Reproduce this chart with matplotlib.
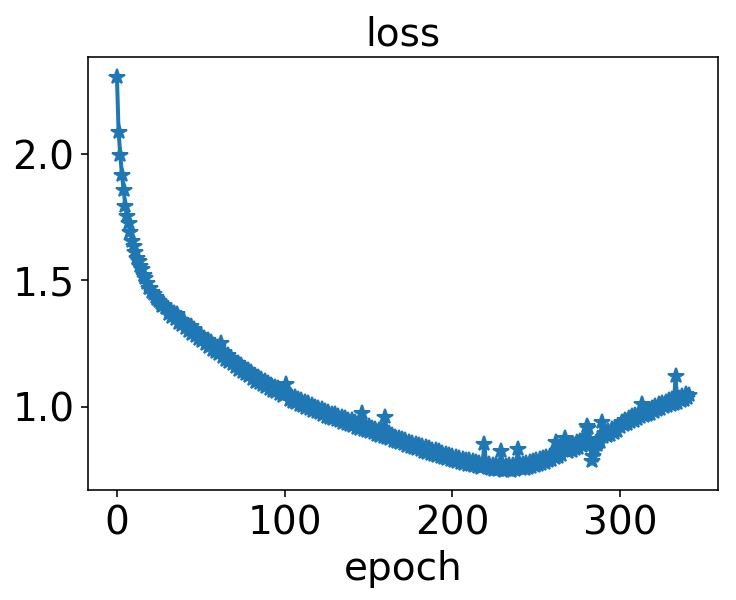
import matplotlib
matplotlib.use("Agg")
import matplotlib.pyplot as plt
from matplotlib.ticker import MultipleLocator

# loss per epoch
loss = [
    2.306, 2.088, 1.996, 1.917, 1.858, 1.795, 1.756, 1.727, 1.693, 1.657,
    1.637, 1.612, 1.590, 1.578, 1.556, 1.545, 1.522, 1.508, 1.491, 1.472,
    1.470, 1.455, 1.448, 1.436, 1.428, 1.420, 1.412, 1.398, 1.402, 1.389,
    1.392, 1.368, 1.379, 1.355, 1.372, 1.349, 1.366, 1.332, 1.345, 1.325,
    1.338, 1.312, 1.324, 1.298, 1.318, 1.290, 1.309, 1.282, 1.293, 1.270,
    1.285, 1.260, 1.274, 1.248, 1.266, 1.238, 1.255, 1.226, 1.244, 1.218,
    1.235, 1.210, 1.254, 1.198, 1.215, 1.186, 1.205, 1.176, 1.192, 1.168,
    1.183, 1.158, 1.172, 1.146, 1.164, 1.138, 1.155, 1.128, 1.144, 1.120,
    1.136, 1.112, 1.126, 1.100, 1.118, 1.094, 1.110, 1.086, 1.102, 1.078,
    1.096, 1.072, 1.088, 1.064, 1.080, 1.058, 1.074, 1.050, 1.066, 1.042,
    1.058, 1.090, 1.050, 1.028, 1.044, 1.020, 1.038, 1.014, 1.030, 1.008,
    1.026, 1.004, 1.020, 0.996, 1.014, 0.990, 1.008, 0.984, 1.000, 0.978,
    0.996, 0.974, 0.990, 0.966, 0.984, 0.960, 0.978, 0.956, 0.972, 0.950,
    0.970, 0.948, 0.964, 0.942, 0.958, 0.936, 0.954, 0.932, 0.948, 0.928,
    0.946, 0.924, 0.940, 0.918, 0.936, 0.914, 0.977, 0.910, 0.928, 0.904,
    0.924, 0.902, 0.918, 0.896, 0.914, 0.890, 0.910, 0.886, 0.904, 0.882,
    0.958, 0.878, 0.896, 0.872, 0.890, 0.866, 0.882, 0.860, 0.876, 0.856,
    0.874, 0.852, 0.868, 0.846, 0.862, 0.842, 0.858, 0.836, 0.852, 0.832,
    0.850, 0.828, 0.846, 0.822, 0.840, 0.818, 0.836, 0.814, 0.830, 0.808,
    0.828, 0.806, 0.824, 0.800, 0.818, 0.796, 0.812, 0.792, 0.808, 0.788,
    0.806, 0.786, 0.802, 0.780, 0.798, 0.776, 0.794, 0.772, 0.790, 0.770,
    0.788, 0.768, 0.784, 0.764, 0.780, 0.760, 0.778, 0.758, 0.776, 0.854,
    0.774, 0.756, 0.772, 0.752, 0.770, 0.750, 0.768, 0.750, 0.766, 0.826,
    0.764, 0.748, 0.766, 0.750, 0.768, 0.748, 0.770, 0.750, 0.768, 0.834,
    0.770, 0.752, 0.772, 0.754, 0.776, 0.758, 0.780, 0.762, 0.784, 0.766,
    0.788, 0.770, 0.792, 0.774, 0.796, 0.778, 0.802, 0.784, 0.806, 0.790,
    0.812, 0.796, 0.860, 0.802, 0.826, 0.808, 0.834, 0.878, 0.840, 0.820,
    0.848, 0.826, 0.854, 0.832, 0.860, 0.838, 0.866, 0.844, 0.872, 0.850,
    0.925, 0.918, 0.865, 0.786, 0.805, 0.830, 0.850, 0.872, 0.860, 0.938,
    0.880, 0.898, 0.885, 0.905, 0.890, 0.912, 0.898, 0.918, 0.905, 0.926,
    0.920, 0.938, 0.928, 0.948, 0.932, 0.955, 0.940, 0.962, 0.945, 0.968,
    0.952, 0.972, 0.958, 1.012, 0.962, 0.978, 0.966, 0.988, 0.972, 0.995,
    0.980, 1.002, 0.986, 1.010, 0.992, 1.016, 0.998, 1.020, 1.004, 1.026,
    1.008, 1.030, 1.012, 1.123, 1.016, 1.036, 1.022, 1.044, 1.028, 1.050,
    1.034, 1.045,
]
epochs = list(range(len(loss)))

plt.rcParams['font.size'] = 19.5
plt.rcParams['axes.titlesize'] = 19.5

fig = plt.figure(figsize=(736 / 144, 600 / 144), dpi=144)
ax = fig.add_subplot(111)
ax.plot(epochs, loss, marker='*', linewidth=2, markersize=8)
ax.set_title('loss')
ax.set_xlabel('epoch')
ax.yaxis.set_major_locator(MultipleLocator(0.5))
fig.subplots_adjust(left=0.12, right=0.975, bottom=0.183, top=0.905)
plt.savefig('out.png')
